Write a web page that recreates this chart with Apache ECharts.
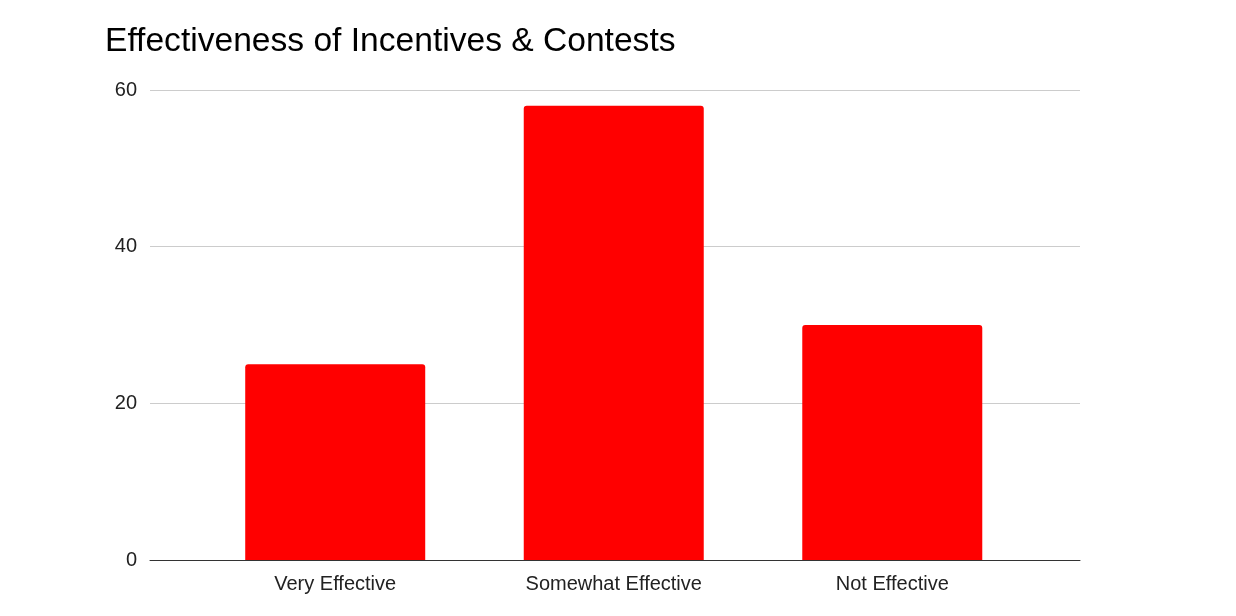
<!DOCTYPE html>
<html>
<head>
<meta charset="utf-8">
<script src="https://cdn.jsdelivr.net/npm/echarts@6/dist/echarts.min.js"></script>
<style>
html,body{margin:0;padding:0;background:#fff;}
#chart{width:1236px;height:616px;}
</style>
</head>
<body>
<div id="chart"></div>
<script>
const titleText = 'Effectiveness of Incentives & Contests';
const categories = ['Very Effective', 'Somewhat Effective', 'Not Effective'];
const values = [25, 58, 30];
const yTicks = [0, 20, 40, 60];

const chart = echarts.init(document.getElementById('chart'));
chart.setOption({
  animation: false,
  backgroundColor: '#ffffff',
  title: {
    text: titleText,
    left: 100,
    top: 20,
    textStyle: { fontFamily: 'Liberation Sans, Arial, sans-serif', fontSize: 33.6, fontWeight: 'normal', color: '#000' }
  },
  grid: { left: 150, right: 156, top: 90, bottom: 56 },
  xAxis: {
    type: 'value',
    min: -0.665,
    max: 2.674,
    splitLine: { show: false },
    axisTick: { show: false },
    axisLine: { show: true, lineStyle: { color: '#333', width: 1 } },
    axisLabel: {
      customValues: [0, 1, 2],
      formatter: function (v) { return categories[Math.round(v)]; },
      fontFamily: 'Liberation Sans, Arial, sans-serif',
      fontSize: 20,
      color: '#222',
      margin: 14
    }
  },
  yAxis: {
    type: 'value',
    min: yTicks[0],
    max: yTicks[yTicks.length - 1],
    interval: 20,
    axisLine: { show: false },
    axisTick: { show: false },
    splitLine: { lineStyle: { color: '#cccccc', width: 1 } },
    axisLabel: {
      fontFamily: 'Liberation Sans, Arial, sans-serif',
      fontSize: 20,
      color: '#222',
      margin: 13
    }
  },
  series: [{
    type: 'bar',
    barWidth: 180,
    data: values.map(function (v, i) { return [i, v]; }),
    itemStyle: { color: '#ff0000', borderRadius: [3, 3, 0, 0] }
  }]
});
</script>
</body>
</html>
